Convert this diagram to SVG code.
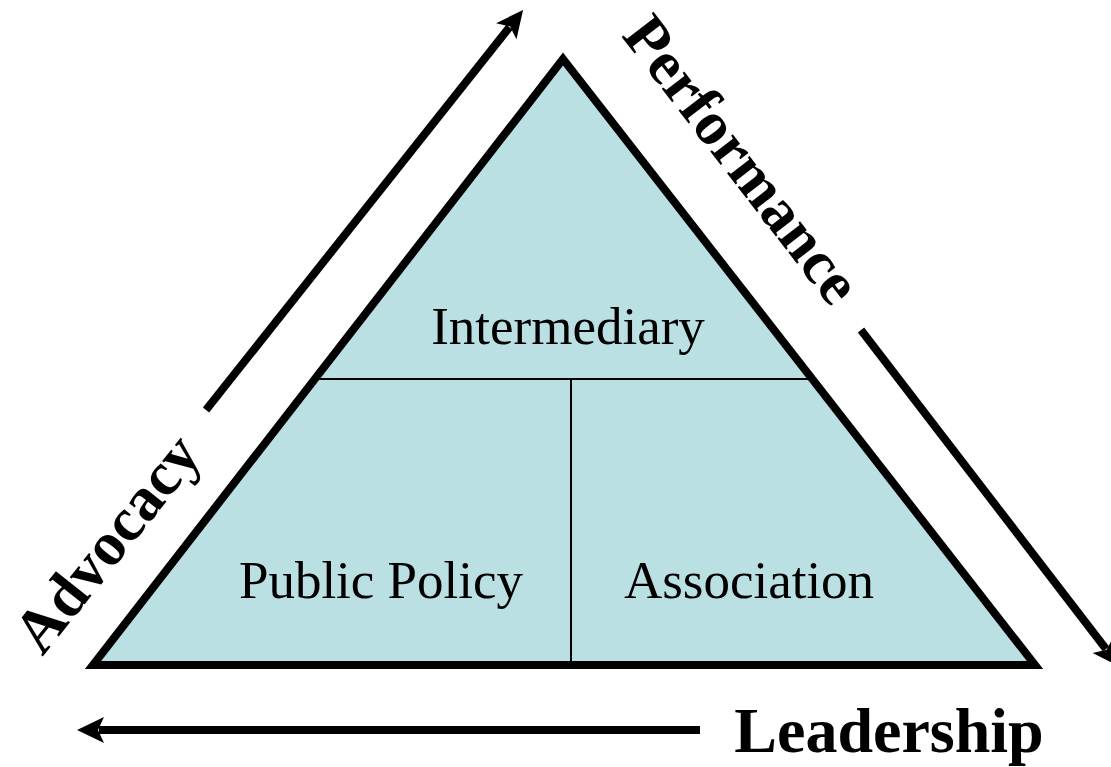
<svg xmlns="http://www.w3.org/2000/svg" width="1111" height="767" viewBox="0 0 1111 767">
<style>
.lbl{font-family:"Liberation Serif","Times New Roman",serif;font-size:53px;fill:#000;text-anchor:middle}
.side{font-family:"Liberation Serif","Times New Roman",serif;font-size:62px;font-weight:bold;fill:#000;text-anchor:middle}
.arrow{stroke:#000;stroke-width:8;fill:none;marker-end:url(#head)}
.div{stroke:#000;stroke-width:2;fill:none}
</style>
<defs>
<marker id="head" markerUnits="userSpaceOnUse" markerWidth="60" markerHeight="60" refX="0" refY="0" orient="auto" overflow="visible">
<path d="M22,0 L-5,-13 L1,0 L-5,13 Z" fill="#000"/>
</marker>
</defs>
<rect width="1111" height="767" fill="#fff"/>
<g id="pyramid">
<polygon points="563,59 93,665 1035,665" fill="#BBE0E3" stroke="#000" stroke-width="8" stroke-linejoin="miter" stroke-miterlimit="10"/>
<line class="div" x1="315" y1="379" x2="812" y2="379"/>
<line class="div" x1="571" y1="379" x2="571" y2="665"/>
</g>
<g id="intermediary"><text class="lbl" x="568" y="344">Intermediary</text></g>
<g id="public-policy"><text class="lbl" x="381" y="598">Public Policy</text></g>
<g id="association"><text class="lbl" x="749" y="598">Association</text></g>
<g id="advocacy"><text class="side" transform="translate(123,556) rotate(-51.5)">Advocacy</text></g>
<g id="performance"><text class="side" transform="translate(726,172) rotate(52.3)">Performance</text></g>
<g id="leadership"><text class="side" x="889" y="752" style="font-size:64px">Leadership</text></g>
<g id="connectors">
<line class="arrow" x1="206" y1="410" x2="509.4" y2="27.3"/>
<line class="arrow" x1="861" y1="330" x2="1106" y2="649"/>
<line class="arrow" x1="700" y1="730" x2="99" y2="730"/>
</g>
</svg>
